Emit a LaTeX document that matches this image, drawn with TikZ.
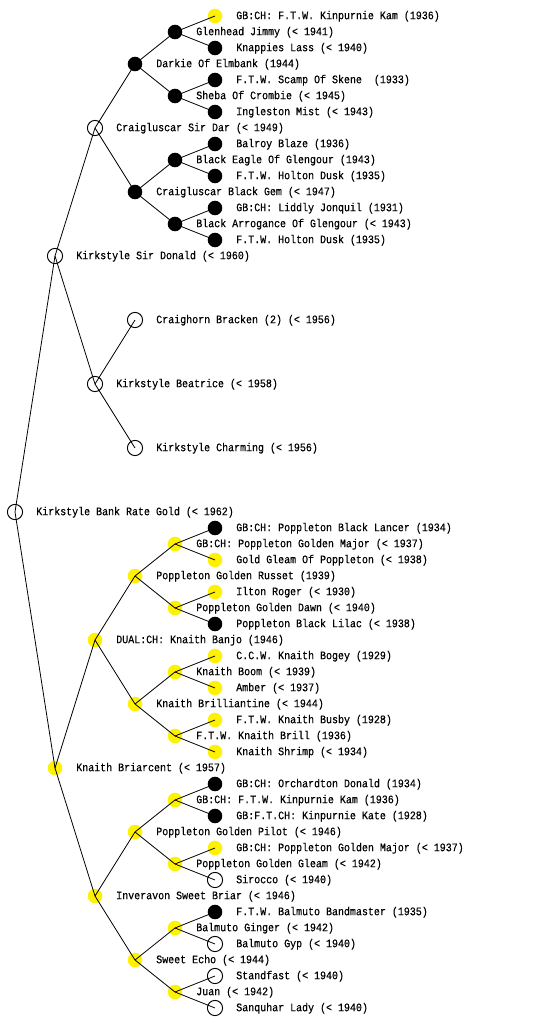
\documentclass[tikz,border=0pt]{standalone}
\usepackage{fontspec}
\setmonofont[FakeStretch=0.87,FakeBold=0.4]{Liberation Mono}
\begin{document}
\begin{tikzpicture}[x=0.75pt,y=-0.75pt,
  dot/.style={circle,inner sep=0pt,minimum size=10.9pt},
  yel/.style={dot,fill=yellow},
  blk/.style={dot,fill=black},
  wht/.style={dot,draw=black,fill=white,line width=0.7pt,minimum size=11.4pt},
  txt/.style={anchor=mid west,inner sep=0pt,font=\ttfamily\fontsize{8.6pt}{10pt}\selectfont},
  edge/.style={draw=black,line width=0.6pt}]
\fill[white] (0,0) rectangle (560,1024);
\useasboundingbox (0,0) rectangle (560,1024);
\newcommand\dognode[5]{\node[#4] (n#1) at (#2,#3) {}; \node[txt] (t#1) at (#2+21,#3+0.3) {#5};}
\dognode{512}{15}{512}{wht}{Kirkstyle Bank Rate Gold (< 1962)}
\dognode{256}{55}{256}{wht}{Kirkstyle Sir Donald (< 1960)}
\dognode{128}{95}{128}{wht}{Craigluscar Sir Dar (< 1949)}
\dognode{64}{135}{64}{blk}{Darkie Of Elmbank (1944)}
\dognode{32}{175}{32}{blk}{Glenhead Jimmy (< 1941)}
\dognode{16}{215}{16}{yel}{GB:CH: F.T.W. Kinpurnie Kam (1936)}
\dognode{48}{215}{48}{blk}{Knappies Lass (< 1940)}
\dognode{96}{175}{96}{blk}{Sheba Of Crombie (< 1945)}
\dognode{80}{215}{80}{blk}{F.T.W. Scamp Of Skene\ \ (1933)}
\dognode{112}{215}{112}{blk}{Ingleston Mist (< 1943)}
\dognode{192}{135}{192}{blk}{Craigluscar Black Gem (< 1947)}
\dognode{160}{175}{160}{blk}{Black Eagle Of Glengour (1943)}
\dognode{144}{215}{144}{blk}{Balroy Blaze (1936)}
\dognode{176}{215}{176}{blk}{F.T.W. Holton Dusk (1935)}
\dognode{224}{175}{224}{blk}{Black Arrogance Of Glengour (< 1943)}
\dognode{208}{215}{208}{blk}{GB:CH: Liddly Jonquil (1931)}
\dognode{240}{215}{240}{blk}{F.T.W. Holton Dusk (1935)}
\dognode{384}{95}{384}{wht}{Kirkstyle Beatrice (< 1958)}
\dognode{320}{135}{320}{wht}{Craighorn Bracken (2) (< 1956)}
\dognode{448}{135}{448}{wht}{Kirkstyle Charming (< 1956)}
\dognode{768}{55}{768}{yel}{Knaith Briarcent (< 1957)}
\dognode{640}{95}{640}{yel}{DUAL:CH: Knaith Banjo (1946)}
\dognode{576}{135}{576}{yel}{Poppleton Golden Russet (1939)}
\dognode{544}{175}{544}{yel}{GB:CH: Poppleton Golden Major (< 1937)}
\dognode{528}{215}{528}{blk}{GB:CH: Poppleton Black Lancer (1934)}
\dognode{560}{215}{560}{yel}{Gold Gleam Of Poppleton (< 1938)}
\dognode{608}{175}{608}{yel}{Poppleton Golden Dawn (< 1940)}
\dognode{592}{215}{592}{yel}{Ilton Roger (< 1930)}
\dognode{624}{215}{624}{blk}{Poppleton Black Lilac (< 1938)}
\dognode{704}{135}{704}{yel}{Knaith Brilliantine (< 1944)}
\dognode{672}{175}{672}{yel}{Knaith Boom (< 1939)}
\dognode{656}{215}{656}{yel}{C.C.W. Knaith Bogey (1929)}
\dognode{688}{215}{688}{yel}{Amber (< 1937)}
\dognode{736}{175}{736}{yel}{F.T.W. Knaith Brill (1936)}
\dognode{720}{215}{720}{yel}{F.T.W. Knaith Busby (1928)}
\dognode{752}{215}{752}{yel}{Knaith Shrimp (< 1934)}
\dognode{896}{95}{896}{yel}{Inveravon Sweet Briar (< 1946)}
\dognode{832}{135}{832}{yel}{Poppleton Golden Pilot (< 1946)}
\dognode{800}{175}{800}{yel}{GB:CH: F.T.W. Kinpurnie Kam (1936)}
\dognode{784}{215}{784}{blk}{GB:CH: Orchardton Donald (1934)}
\dognode{816}{215}{816}{blk}{GB:F.T.CH: Kinpurnie Kate (1928)}
\dognode{864}{175}{864}{yel}{Poppleton Golden Gleam (< 1942)}
\dognode{848}{215}{848}{yel}{GB:CH: Poppleton Golden Major (< 1937)}
\dognode{880}{215}{880}{wht}{Sirocco (< 1940)}
\dognode{960}{135}{960}{yel}{Sweet Echo (< 1944)}
\dognode{928}{175}{928}{yel}{Balmuto Ginger (< 1942)}
\dognode{912}{215}{912}{blk}{F.T.W. Balmuto Bandmaster (1935)}
\dognode{944}{215}{944}{wht}{Balmuto Gyp (< 1940)}
\dognode{992}{175}{992}{yel}{Juan (< 1942)}
\dognode{976}{215}{976}{wht}{Standfast (< 1940)}
\dognode{1008}{215}{1008}{wht}{Sanquhar Lady (< 1940)}
\foreach \p/\c in {512/256,512/768,256/128,256/384,128/64,128/192,
  64/32,64/96,32/16,32/48,96/80,96/112,
  192/160,192/224,160/144,160/176,224/208,224/240,
  384/320,384/448,
  768/640,768/896,640/576,640/704,576/544,576/608,544/528,544/560,608/592,608/624,
  704/672,704/736,672/656,672/688,736/720,736/752,
  896/832,896/960,832/800,832/864,800/784,800/816,864/848,864/880,
  960/928,960/992,928/912,928/944,992/976,992/1008}
  \draw[edge] (n\p.center) -- (n\c.center);
\end{tikzpicture}
\end{document}
